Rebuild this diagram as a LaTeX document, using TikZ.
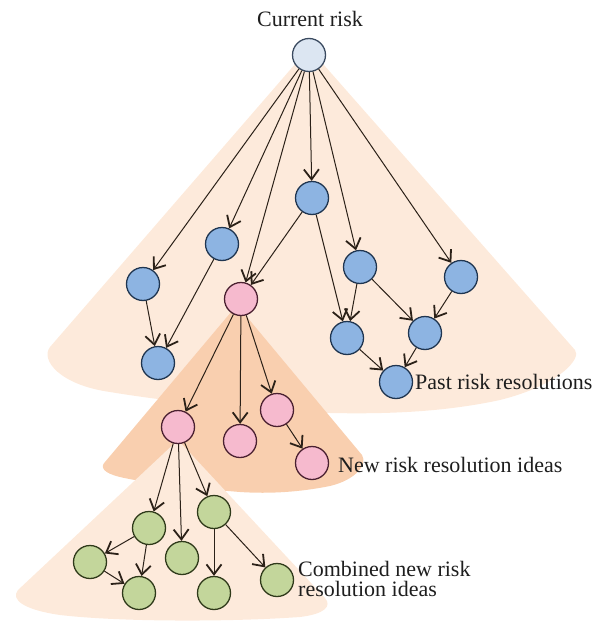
\documentclass[tikz,border=0pt]{standalone}
\usepackage{fontspec}
\setmainfont{Liberation Serif}
\usetikzlibrary{arrows.meta}
\definecolor{fanlight}{HTML}{FDEADB}
\definecolor{fandark}{HTML}{F9CFAF}
\definecolor{topfill}{HTML}{DCE6F2}
\definecolor{topline}{HTML}{3A4A60}
\definecolor{bfill}{HTML}{8DB4E2}
\definecolor{bline}{HTML}{1F3550}
\definecolor{pfill}{HTML}{F6BACE}
\definecolor{pline}{HTML}{4A2030}
\definecolor{gfill}{HTML}{C3D69B}
\definecolor{gline}{HTML}{2F3A1A}
\definecolor{edgecol}{HTML}{2B2118}
\definecolor{txtcol}{HTML}{1E1E1E}
\begin{document}
\begin{tikzpicture}[x=1pt,y=-1pt,
  nd/.style={circle,minimum size=33pt,inner sep=0pt,line width=1.3pt},
  topnd/.style={nd,fill=topfill,draw=topline},
  bnode/.style={nd,fill=bfill,draw=bline},
  pnode/.style={nd,fill=pfill,draw=pline},
  gnode/.style={nd,fill=gfill,draw=gline},
  arr/.style={draw=edgecol,line width=1pt,-{Straight Barb[length=10pt,width=15pt,line width=1.8pt]}},
  lbl/.style={inner sep=0pt,text=txtcol,font=\fontsize{22}{20.5}\selectfont}
]
\useasboundingbox (0,0) rectangle (603,621);
% fans
\fill[fanlight] (309,48) -- (575,350) .. controls (582,358) and (560,385) .. (500,400)
  .. controls (440,413) and (380,414) .. (330,413)
  .. controls (250,410) and (170,402) .. (110,392)
  .. controls (60,385) and (40,360) .. (50,347) -- cycle;
\fill[fandark] (237,305) -- (362,455) .. controls (368,465) and (355,480) .. (330,486)
  .. controls (300,492) and (270,494) .. (240,492)
  .. controls (190,488) and (140,482) .. (120,477)
  .. controls (103,473) and (100,467) .. (105,462) -- cycle;
\fill[fanlight] (178,440) -- (325,598) .. controls (332,606) and (325,614) .. (300,617)
  .. controls (230,622) and (120,622) .. (60,615)
  .. controls (25,610) and (10,600) .. (18,590) -- cycle;
% nodes
\node[topnd] (T) at (309,55) {};
\node[bnode] (C) at (312,198) {};
\node[bnode] (B) at (222,244) {};
\node[bnode] (A) at (143,284) {};
\node[bnode] (E) at (360,267) {};
\node[bnode] (F) at (461,277) {};
\node[bnode] (D) at (158,363) {};
\node[bnode] (G) at (347,338) {};
\node[bnode] (H) at (425,333) {};
\node[bnode] (I) at (396,382) {};
\node[pnode] (P0) at (241,299) {};
\node[pnode] (P1) at (178,427) {};
\node[pnode] (P2) at (240,441) {};
\node[pnode] (P3) at (277,410) {};
\node[pnode] (P4) at (312,463) {};
\node[gnode] (G1) at (149,528) {};
\node[gnode] (G5) at (214,512) {};
\node[gnode] (G2) at (90,562) {};
\node[gnode] (G4) at (182,558) {};
\node[gnode] (G3) at (139,593) {};
\node[gnode] (G6) at (214,593) {};
\node[gnode] (G7) at (277,580) {};
% labels
\node[lbl,anchor=base] (lcur) at (310,27) {Current risk};
\node[lbl,anchor=base west] (lpast) at (415,389) {Past risk resolutions};
\node[lbl,anchor=base west] (lnew) at (338,472) {New risk resolution ideas};
\node[lbl,anchor=north west,align=left] (lcomb) at (298,561) {Combined new risk\\resolution ideas};
% edges
\foreach \t in {A,B,P0,C,E,F} \draw[arr] (T) -- (\t);
\draw[arr] (C) -- (P0);
\draw[arr] (C) -- (G);
\draw[arr] (A) -- (D);
\draw[arr] (B) -- (D);
\draw[arr] (E) -- (G);
\draw[arr] (E) -- (H);
\draw[arr] (F) -- (H);
\draw[arr] (G) -- (I);
\draw[arr] (H) -- (I);
\draw[arr] (P0) -- (P1);
\draw[arr] (P0) -- (P2);
\draw[arr] (P0) -- (P3);
\draw[arr] (P3) -- (P4);
\draw[arr] (P1) -- (G1);
\draw[arr] (P1) -- (G4);
\draw[arr] (P1) -- (G5);
\draw[arr] (G1) -- (G2);
\draw[arr] (G1) -- (G3);
\draw[arr] (G2) -- (G3);
\draw[arr] (G5) -- (G6);
\draw[arr] (G5) -- (G7);
\end{tikzpicture}
\end{document}
